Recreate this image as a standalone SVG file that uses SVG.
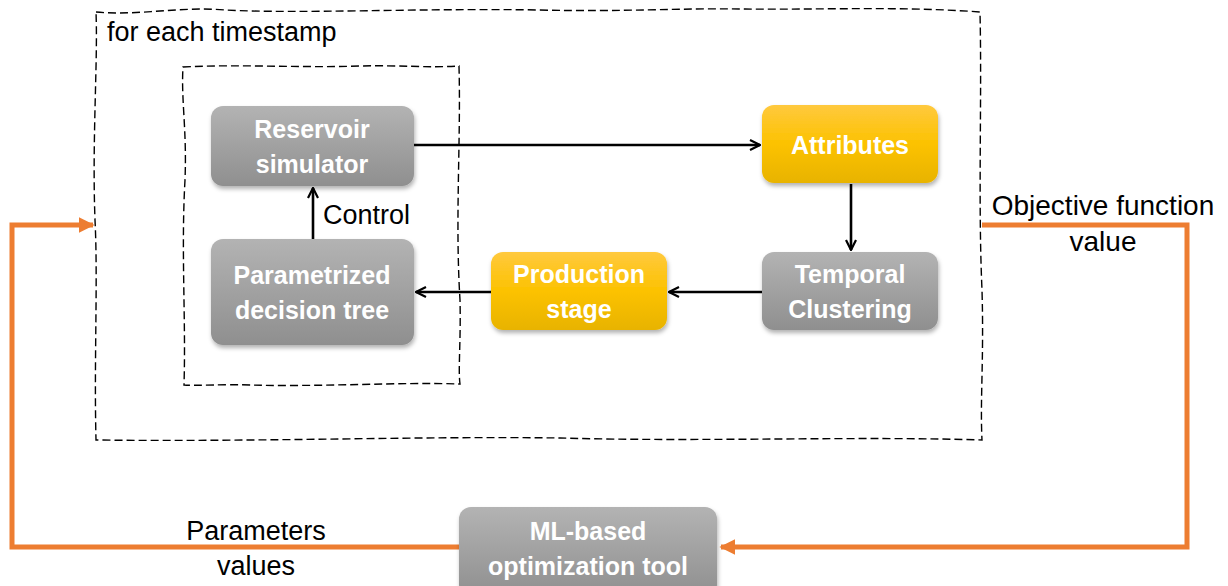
<svg xmlns="http://www.w3.org/2000/svg" width="1228" height="586" viewBox="0 0 1228 586">
<defs>
<linearGradient id="gGray" x1="0" y1="0" x2="0" y2="1">
<stop offset="0" stop-color="#b3b3b3"/><stop offset="1" stop-color="#8f8f8f"/>
</linearGradient>
<linearGradient id="gGold" x1="0" y1="0" x2="0" y2="1">
<stop offset="0" stop-color="#ffc93e"/><stop offset="0.5" stop-color="#fcc200"/><stop offset="1" stop-color="#e8b300"/>
</linearGradient>
<filter id="sh" x="-10%" y="-10%" width="130%" height="140%">
<feDropShadow dx="1" dy="3" stdDeviation="2" flood-color="#000" flood-opacity="0.3"/>
</filter>
<marker id="open" viewBox="0 0 12 12" refX="11" refY="6" markerWidth="12" markerHeight="12" markerUnits="userSpaceOnUse" orient="auto">
<path d="M1,1 L11,6 L1,11" fill="none" stroke="#000" stroke-width="2.2"/>
</marker>
<marker id="tri" viewBox="0 0 10 10" refX="9" refY="5" markerWidth="16" markerHeight="16" markerUnits="userSpaceOnUse" orient="auto">
<path d="M0,0 L10,5 L0,10 Z" fill="#ed7d31"/>
</marker>
</defs>
<style>
.dash{fill:none;stroke:#000;stroke-width:1.4;stroke-dasharray:8 4}
.box{filter:url(#sh)}
.nt{font-family:"Liberation Sans",Arial,sans-serif;font-weight:bold;font-size:25px;fill:#fff;text-anchor:middle}
.lt{font-family:"Liberation Sans",Arial,sans-serif;font-size:27px;fill:#000}
.ln{fill:none;stroke:#000;stroke-width:2.6}
.or{fill:none;stroke:#ed7d31;stroke-width:5}
</style>
<rect width="1228" height="586" fill="#fff"/>
<g id="outer-loop">
<path class="dash" d="M96,12 C140,16 180,6 225,10 C300,14 420,8 540,10 C620,12 680,8 740,9 C820,10 900,6 980,12 C982,100 978,200 982,290 C984,360 980,400 982,440 C860,436 700,442 560,438 C420,436 260,442 96,440 C94,360 98,280 95,220 C92,140 98,60 96,12 Z"/>
<text class="lt" x="107" y="41" style="font-size:27px">for each timestamp</text>
</g>
<g id="inner-loop">
<path class="dash" d="M183,67 C240,64 300,68 360,66 C400,65 430,68 459,66 C461,140 455,220 460,300 C461,340 458,370 460,384 C400,382 320,387 250,385 C220,384 200,386 184,385 C186,320 181,250 185,180 C187,130 181,100 183,67 Z"/>
</g>
<g id="connectors">
<line class="ln" x1="414" y1="145" x2="760" y2="145" marker-end="url(#open)"/>
<line class="ln" x1="851" y1="184" x2="851" y2="250" marker-end="url(#open)"/>
<line class="ln" x1="762" y1="292" x2="669" y2="292" marker-end="url(#open)"/>
<line class="ln" x1="491" y1="292" x2="416" y2="292" marker-end="url(#open)"/>
<line class="ln" x1="313" y1="239" x2="313" y2="188" marker-end="url(#open)"/>
<text class="lt" x="323" y="224">Control</text>
<polyline class="or" points="982,225 1187,225 1187,547 721,547" marker-end="url(#tri)"/>
<polyline class="or" points="459,547 12,547 12,225 93,225" marker-end="url(#tri)"/>
<text class="lt" x="1103" y="215" text-anchor="middle" style="font-size:28px">Objective function</text>
<text class="lt" x="1103" y="251" text-anchor="middle" style="font-size:28px">value</text>
<text class="lt" x="256" y="540" text-anchor="middle">Parameters</text>
<text class="lt" x="256" y="575" text-anchor="middle">values</text>
</g>
<g id="reservoir-simulator">
<rect class="box" x="211" y="106" width="203" height="80" rx="12" fill="url(#gGray)"/>
<text class="nt" x="312" y="138">Reservoir</text>
<text class="nt" x="312" y="173">simulator</text>
</g>
<g id="parametrized-decision-tree">
<rect class="box" x="211" y="239" width="203" height="106" rx="12" fill="url(#gGray)"/>
<text class="nt" x="312" y="284">Parametrized</text>
<text class="nt" x="312" y="319">decision tree</text>
</g>
<g id="attributes">
<rect class="box" x="762" y="105" width="176" height="78" rx="12" fill="url(#gGold)"/>
<text class="nt" x="850" y="154">Attributes</text>
</g>
<g id="temporal-clustering">
<rect class="box" x="762" y="252" width="176" height="78" rx="12" fill="url(#gGray)"/>
<text class="nt" x="850" y="283">Temporal</text>
<text class="nt" x="850" y="318">Clustering</text>
</g>
<g id="production-stage">
<rect class="box" x="491" y="252" width="176" height="78" rx="12" fill="url(#gGold)"/>
<text class="nt" x="579" y="283">Production</text>
<text class="nt" x="579" y="318">stage</text>
</g>
<g id="ml-optimization-tool">
<rect class="box" x="459" y="507" width="258" height="90" rx="12" fill="url(#gGray)"/>
<text class="nt" x="588" y="540">ML-based</text>
<text class="nt" x="588" y="575">optimization tool</text>
</g>
</svg>
